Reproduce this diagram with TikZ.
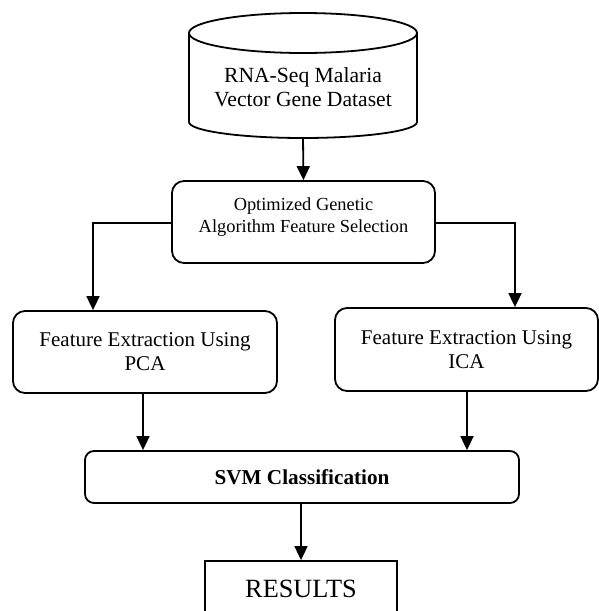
\documentclass[tikz,border=0pt]{standalone}
\usepackage{fontspec}
\setmainfont{Liberation Serif}
\usetikzlibrary{arrows.meta,positioning}

\tikzset{
  flow/.style={line width=1.8pt, -{Triangle[width=13pt,length=14pt]}},
  plain/.style={line width=1.8pt},
  roundbox/.style={draw, line width=1.8pt, rounded corners=12pt, align=center, inner sep=0pt},
  sharpbox/.style={draw, line width=1.8pt, align=center, inner sep=0pt},
  txt/.style={align=center, inner sep=0pt}
}

\begin{document}
\begin{tikzpicture}[x=1pt, y=-1pt]
  \useasboundingbox (0,0) rectangle (598,611);

  % database cylinder
  \draw[plain] (303,33) ellipse [x radius=114, y radius=20];
  \draw[plain] (189,33) -- (189,122) arc[start angle=180, end angle=0, x radius=114, y radius=16] -- (417,33);
  \node[txt, font=\fontsize{21.6}{24}\selectfont] (db) at (303,87) {RNA-Seq Malaria\\Vector Gene Dataset};
  \coordinate (dbbot) at (303,138);

  % genetic algorithm stage
  \node[roundbox, minimum width=263pt, minimum height=82pt] (ga) at (303.5,222) {};
  \node[txt, font=\fontsize{18.4}{22}\selectfont] (gatext) at (303.5,217) {Optimized Genetic\\Algorithm Feature Selection};

  % feature extraction stages
  \node[roundbox, minimum width=264pt, minimum height=82pt, font=\fontsize{21}{24}\selectfont] (pca) at (145,352) {Feature Extraction Using\\PCA};
  \node[roundbox, minimum width=263pt, minimum height=83pt, font=\fontsize{21}{24}\selectfont] (ica) at (466.5,349.5) {Feature Extraction Using\\ICA};

  % classifier and output
  \node[roundbox, rounded corners=9pt, minimum width=434pt, minimum height=52pt, font=\fontsize{21.2}{24}\bfseries\selectfont] (svm) at (302,477) {SVM Classification};
  \node[sharpbox, minimum width=192pt, minimum height=56pt, font=\fontsize{26.3}{30}\selectfont] (res) at (301,589) {RESULTS};

  % connectors
  \draw[flow] (dbbot) -- (ga.north);
  \coordinate (gl) at (93,223);
  \coordinate (gr) at (515,223);
  \draw[flow] (ga.west |- gl) -- (gl) -- (gl |- pca.north);
  \draw[flow] (ga.east |- gr) -- (gr) -- (gr |- ica.north);
  \draw[flow] (pca.south -| 143,0) -- (svm.north -| 143,0);
  \draw[flow] (ica.south -| 467,0) -- (svm.north -| 467,0);
  \draw[flow] (svm.south -| res.north) -- (res.north);
\end{tikzpicture}
\end{document}
